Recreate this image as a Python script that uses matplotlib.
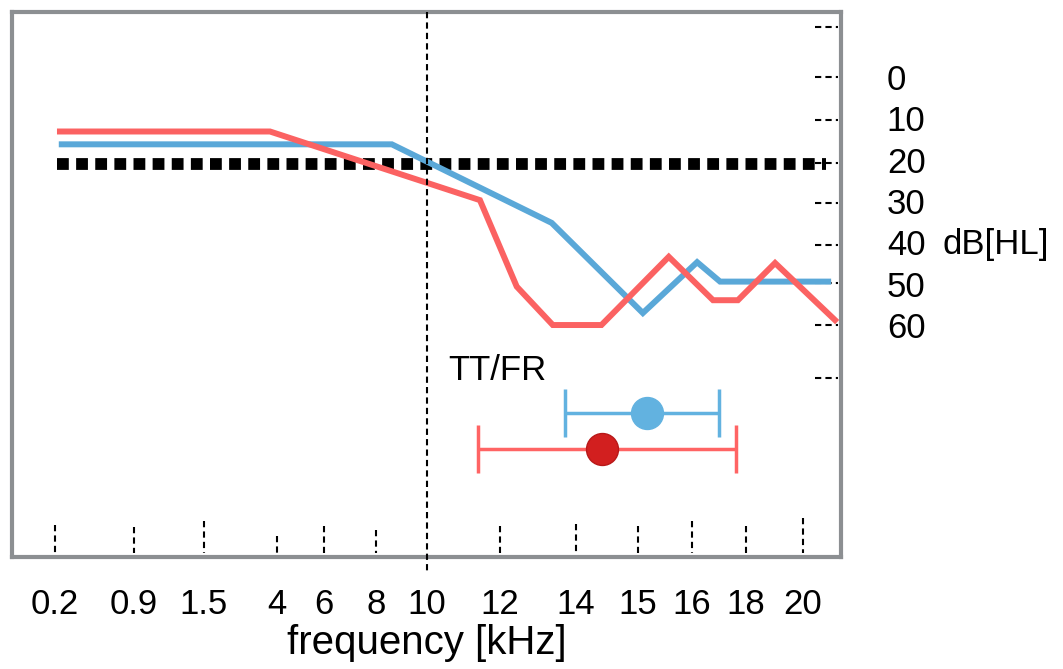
import matplotlib
matplotlib.use('Agg')
import matplotlib.pyplot as plt
import numpy as np

plt.rcParams['font.family'] = ['Liberation Sans', 'DejaVu Sans']

# frequency axis is not linear: tick frequencies and where they sit on the axis
tick_freq = [0.2, 0.9, 1.5, 4, 6, 8, 10, 12, 14, 15, 16, 18, 20]
tick_labels = ['0.2', '0.9', '1.5', '4', '6', '8', '10', '12', '14', '15', '16', '18', '20']
scale_freq = [0, 0.2, 0.9, 1.5, 4, 6, 8, 10, 12, 14, 15, 16, 18, 20, 21.33]
scale_pos = [0, 43, 122, 192, 265, 312, 364, 415, 488, 564, 626, 680, 734, 791, 829]

# hearing level curves (dB HL)
red_freq = [0.244, 3.76, 11.45, 12.44, 13.39, 14.41, 15.57, 16.78, 17.70, 19.02, 21.12]
red_db = [13.2, 13.2, 29.8, 50.7, 60.0, 60.0, 43.5, 54.0, 54.0, 45.0, 58.8]
blue_freq = [0.26, 8.62, 13.36, 15.09, 16.19, 17.04, 20.88]
blue_db = [16.3, 16.3, 35.3, 57.1, 44.8, 49.5, 49.5]
ref_freq = [0.22, 20.8]
ref_db = [21, 21]

# TT/FR estimates with ranges
tt_blue = 15.17
tt_blue_lo, tt_blue_hi = 13.71, 17.0
tt_red = 14.42
tt_red_lo, tt_red_hi = 11.4, 17.63
tt_blue_y, tt_red_y = 81.3, 90.0

db_labels = [0, 10, 20, 30, 40, 50, 60]
db_marks = [-12.1, 0, 10.4, 20.8, 30.5, 40.6, 49.8, 60, 72.8]
# heights of the little dashed ticks at the bottom (10 kHz has the long line)
tick_tops = [108.4, 108.9, 107.4, 111.1, 108.6, 109.6, None,
             108.6, 108.2, 108.6, 107.4, 108.6, 106.7]

RED = '#fb6262'
BLUE = '#5aa8d8'


def fwd(f):
    return np.interp(f, scale_freq, scale_pos)


def inv(p):
    return np.interp(p, scale_pos, scale_freq)


fig = plt.figure(figsize=(10.63, 6.69), dpi=100)
ax = fig.add_axes([12 / 1063, 1 - 557 / 669, 829 / 1063, 545 / 669])
ax.set_xscale('function', functions=(fwd, inv))
ax.set_xlim(0, 21.33)
ax.set_ylim(116.1, -15.7)

for s in ax.spines.values():
    s.set_color('#8c8f92')
    s.set_linewidth(3)

# reference line at 20 dB
ax.plot(ref_freq, ref_db, color='black', lw=8.5, ls=(0, (1, 0.62)),
        dash_capstyle='butt', zorder=2)
ax.plot(blue_freq, blue_db, color=BLUE, lw=4.3, solid_joinstyle='miter', zorder=3)
ax.plot(red_freq, red_db, color=RED, lw=4.3, solid_joinstyle='miter', zorder=4)

# 10 kHz marker
ax.vlines(10, -15.7, 119.5, colors='black', lw=1.5, linestyles=(0, (3, 2)),
          clip_on=False, zorder=5)

# small dashed ticks at the bottom
for f, top in zip(tick_freq, tick_tops):
    if top is None:
        continue
    ax.vlines(f, top, 115.2, colors='black', lw=1.5, linestyles=(0, (3, 2)))

# dashed ticks at the right
ax.hlines(db_marks, 20.42, 21.23, colors='black', lw=1.5, linestyles=(0, (3, 2)))

# TT/FR
ax.text(10.58, 70.9, 'TT/FR', fontsize=25, va='center', ha='left')
ax.errorbar([tt_blue], [tt_blue_y],
            xerr=[[tt_blue - tt_blue_lo], [tt_blue_hi - tt_blue]],
            fmt='o', color='#62b2e0', ecolor='#62b2e0', markersize=23,
            elinewidth=2.5, capsize=17, capthick=2.5, zorder=6)
ax.errorbar([tt_red], [tt_red_y],
            xerr=[[tt_red - tt_red_lo], [tt_red_hi - tt_red]],
            fmt='o', color='#d21f1f', ecolor='#ff6464', markersize=23,
            markeredgecolor='#b81818', elinewidth=2.5, capsize=17, capthick=2.5, zorder=6)

ax.set_xticks(tick_freq)
ax.set_xticklabels(tick_labels, fontsize=25)
ax.xaxis.set_minor_locator(matplotlib.ticker.NullLocator())
ax.tick_params(axis='x', length=0, pad=22)

ax.yaxis.tick_right()
ax.set_yticks(db_labels)
ax.set_yticklabels([str(v) for v in db_labels], fontsize=25)
ax.tick_params(axis='y', length=0, pad=33)
for lab in ax.get_yticklabels():
    lab.set_horizontalalignment('left')

ax.text((943 - 12) / 829, 40.6, 'dB[HL]', transform=ax.get_yaxis_transform(),
        fontsize=25, va='center', ha='left')
fig.text((12 + 841) / 2 / 1063, 1 - 643 / 669, 'frequency [kHz]',
         fontsize=29, ha='center', va='center')

fig.savefig('out.png', dpi=100)
